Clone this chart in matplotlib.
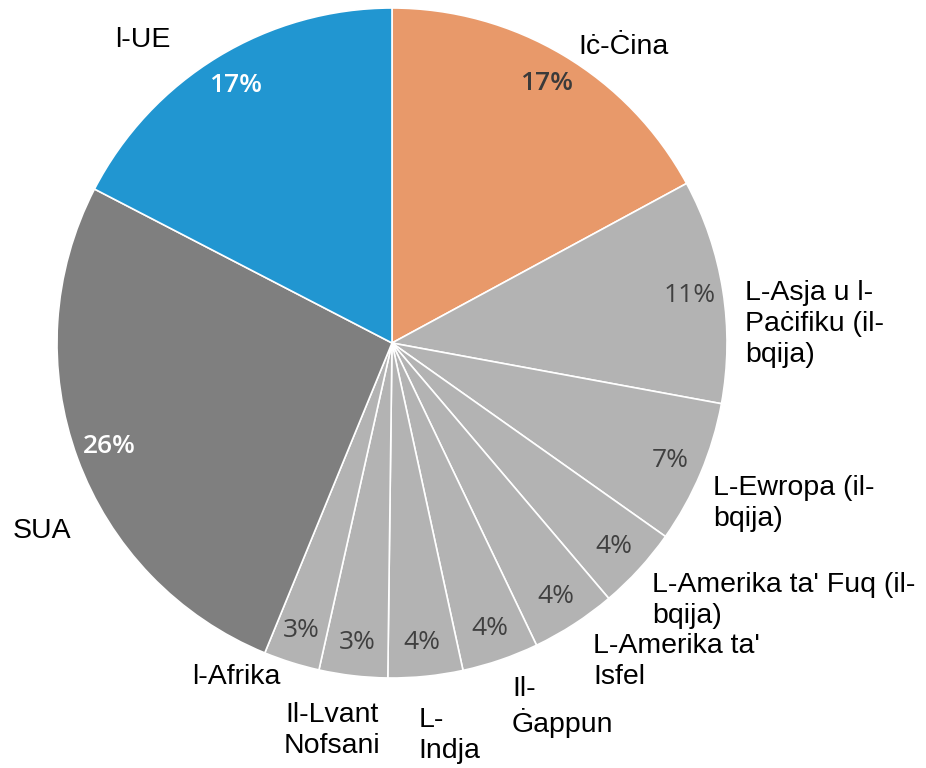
import matplotlib.pyplot as plt

# Share by region (percent)
regions = ["Iċ-Ċina", "L-Asja u l-\nPaċifiku (il-\nbqija)", "L-Ewropa (il-\nbqija)",
           "L-Amerika ta' Fuq (il-\nbqija)", "L-Amerika ta'\nIsfel", "Il-\nĠappun",
           "L-\nIndja", "Il-Lvant\nNofsani", "l-Afrika", "SUA", "l-UE"]
shares = [17.1, 10.8, 6.9, 4.0, 4.1, 3.7, 3.6, 3.3, 2.7, 26.4, 17.4]

# Colours
orange = '#E8996A'
blue = '#2196D1'
dark = '#7F7F7F'
light = '#B3B3B3'
colors = [orange] + [light] * 8 + [dark, blue]
pct_colors = ['#3a3a3a'] + ['#404040'] * 8 + ['white', 'white']

# Label placement (data units, radius = 1) and alignment
label_pos = [(0.69, 0.884, 'center'), (1.054, 0.057, 'left'), (0.958, -0.478, 'left'),
             (0.776, -0.770, 'left'), (0.60, -0.952, 'left'), (0.358, -1.087, 'left'),
             (0.08, -1.173, 'left'), (-0.179, -1.158, 'center'), (-0.334, -0.997, 'right'),
             (-0.958, -0.561, 'right'), (-0.743, 0.904, 'center')]

fig = plt.figure(figsize=(9.26, 7.68), dpi=100)
ax = fig.add_axes([0, 0, 1, 1])

wedges, texts, autotexts = ax.pie(shares, labels=regions, colors=colors, startangle=90,
                                  counterclock=False, autopct='%.0f%%', pctdistance=0.9,
                                  wedgeprops=dict(edgecolor='white', linewidth=1.2))

for t, (x, y, ha) in zip(texts, label_pos):
    t.set_position((x, y))
    t.set_ha(ha)
    t.set_va('center')
    t.set_fontsize(20.5)
    t.set_family('Liberation Sans')
    t.set_linespacing(1.25)

for t, c in zip(autotexts, pct_colors):
    t.set_color(c)
    t.set_fontsize(19)
    t.set_family('Open Sans')
for i in (0, 9, 10):
    autotexts[i].set_fontweight('semibold')

ax.set_aspect('auto')
ax.set_xlim(-392 / 335, (926 - 392) / 335)
ax.set_ylim(-(768 - 343) / 335, 343 / 335)
ax.axis('off')

plt.savefig('out.png', dpi=100)
